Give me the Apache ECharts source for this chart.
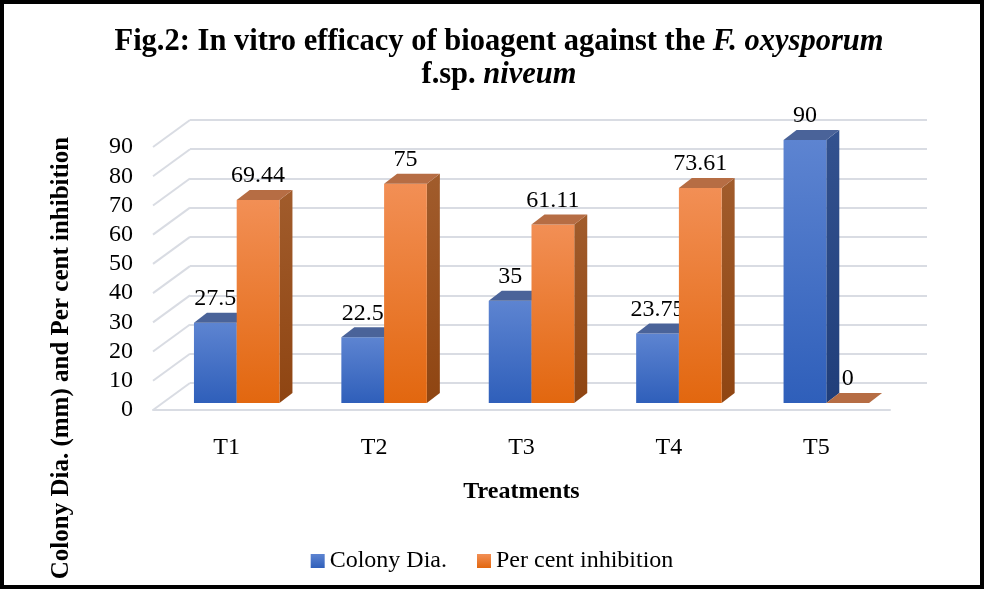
<!DOCTYPE html>
<html>
<head>
<meta charset="utf-8">
<script src="https://cdn.jsdelivr.net/npm/echarts@6/dist/echarts.min.js"></script>
<style>
  html, body { margin: 0; padding: 0; background: #fff; }
  #chart { width: 984px; height: 590px; }
</style>
</head>
<body>
<div id="chart"></div>
<script>
// chart data
const categories = ['T1', 'T2', 'T3', 'T4', 'T5'];
const colonyDia = [27.5, 22.5, 35, 23.75, 90];
const perCentInhibition = [69.44, 75, 61.11, 73.61, 0];
const yTicks = [0, 10, 20, 30, 40, 50, 60, 70, 80, 90];

const FONT = 'Liberation Serif';
const GRID_COLOR = '#d9dce3';
// 3d offsets in px, measured from the back wall
const DEPTH = [-37, 27];
const BAR_FRONT = [-27, 20];
const BAR_BACK = [-14, 10];

const faces = [
  {
    front: ['#5d84d1', '#2f5fba'],
    top: '#4a6399',
    side: ['#33528f', '#203e7a']
  },
  {
    front: ['#f28f55', '#e2670f'],
    top: '#b66d44',
    side: ['#a15c2c', '#8f4512']
  }
];

function grad(c) {
  return new echarts.graphic.LinearGradient(0, 0, 0, 1, [
    { offset: 0, color: c[0] },
    { offset: 1, color: c[1] }
  ]);
}

function barRenderer(s) {
  const f = faces[s];
  return function (params, api) {
    const i = api.value(0);
    const v = api.value(1);
    const base = api.coord([i, 0]);
    const top = api.coord([i, v]);
    const w = api.size([1, 0])[0] * 0.29;
    const x0 = base[0] + BAR_FRONT[0] + (s === 0 ? -w : 0);
    const x1 = x0 + w;
    const yT = top[1] + BAR_FRONT[1];
    const yB = base[1] + BAR_FRONT[1];
    const dx = BAR_BACK[0] - BAR_FRONT[0];
    const dy = BAR_BACK[1] - BAR_FRONT[1];
    return {
      type: 'group',
      children: [
        {
          type: 'polygon',
          shape: { points: [[x1, yT], [x1 + dx, yT + dy], [x1 + dx, yB + dy], [x1, yB]] },
          style: { fill: grad(f.side) }
        },
        {
          type: 'rect',
          shape: { x: x0, y: yT, width: w, height: yB - yT },
          style: { fill: grad(f.front) }
        },
        {
          type: 'polygon',
          shape: { points: [[x0, yT], [x1, yT], [x1 + dx, yT + dy], [x0 + dx, yT + dy]] },
          style: { fill: f.top }
        },
        {
          type: 'text',
          x: (x0 + x1) / 2,
          y: yT + dy - 2,
          style: {
            text: String(v),
            fill: '#000',
            font: '24px "' + FONT + '"',
            align: 'center',
            verticalAlign: 'bottom'
          }
        }
      ]
    };
  };
}

const chart = echarts.init(document.getElementById('chart'));

const titleStyle = { fontFamily: FONT, fontSize: 30.5, fontWeight: 'bold', fill: '#000', lineHeight: 33 };

const option = {
  animation: false,
  backgroundColor: '#fff',
  legend: {
    data: ['Colony Dia.', 'Per cent inhibition'],
    left: 'center',
    top: 544,
    icon: 'rect',
    itemWidth: 14,
    itemHeight: 14,
    itemGap: 30,
    textStyle: { fontFamily: FONT, fontSize: 24, color: '#000' }
  },
  grid: [
    // back wall
    { left: 190, right: 57, top: 120, bottom: 207 },
    // front edge, used for labels
    { left: 153, right: 94, top: 147, bottom: 180 }
  ],
  xAxis: [
    {
      gridIndex: 0,
      type: 'category',
      data: categories,
      axisLine: { show: false },
      axisTick: { show: false },
      axisLabel: { show: false }
    },
    {
      gridIndex: 1,
      type: 'category',
      data: categories,
      axisLine: { lineStyle: { color: GRID_COLOR, width: 2 } },
      axisTick: { show: false },
      axisLabel: { fontFamily: FONT, fontSize: 24, color: '#000', margin: 26 },
      name: 'Treatments',
      nameLocation: 'middle',
      nameGap: 70,
      nameTextStyle: { fontFamily: FONT, fontSize: 24, fontWeight: 'bold', color: '#000' }
    }
  ],
  yAxis: [
    {
      gridIndex: 0,
      type: 'value',
      min: 0,
      max: 90,
      interval: 10,
      axisLine: { show: false },
      axisTick: { show: false },
      axisLabel: { show: false },
      splitLine: { lineStyle: { color: GRID_COLOR, width: 2 } }
    },
    {
      gridIndex: 1,
      type: 'value',
      min: 0,
      max: 90,
      interval: 10,
      axisLine: { show: false },
      axisTick: { show: false },
      splitLine: { show: false },
      axisLabel: { fontFamily: FONT, fontSize: 24, color: '#000', margin: 20 }
    }
  ],
  graphic: [
    {
      type: 'rect',
      shape: { x: 2, y: 2, width: 980, height: 585 },
      style: { fill: 'none', stroke: '#000', lineWidth: 4 },
      z: 100
    },
    {
      // chart title, two centred lines with italic species name
      type: 'text',
      x: 499,
      y: 26,
      style: {
        text: '{a|Fig.2: In vitro efficacy of bioagent against the }{b|F. oxysporum}\n{a|f.sp. }{b|niveum}',
        align: 'center',
        verticalAlign: 'top',
        rich: {
          a: titleStyle,
          b: Object.assign({}, titleStyle, { fontStyle: 'italic' })
        }
      }
    },
    {
      type: 'text',
      x: 62,
      y: 358,
      rotation: Math.PI / 2,
      style: {
        text: 'Colony Dia. (mm) and Per cent inhibition',
        font: 'bold 25px "' + FONT + '"',
        fill: '#000',
        align: 'center',
        verticalAlign: 'middle'
      }
    }
  ],
  series: [
    {
      // slanted lines of the side wall
      type: 'custom',
      name: 'side',
      xAxisIndex: 0,
      yAxisIndex: 0,
      silent: true,
      data: yTicks.map(function (v) { return [0, v]; }),
      renderItem: function (params, api) {
        const p = api.coord([0, api.value(1)]);
        const x = params.coordSys.x;
        return {
          type: 'line',
          shape: { x1: x, y1: p[1], x2: x + DEPTH[0], y2: p[1] + DEPTH[1] },
          style: { stroke: GRID_COLOR, lineWidth: 2 }
        };
      }
    },
    {
      type: 'custom',
      name: 'Colony Dia.',
      xAxisIndex: 0,
      yAxisIndex: 0,
      itemStyle: { color: grad(faces[0].front) },
      data: colonyDia.map(function (v, i) { return [i, v]; }),
      renderItem: barRenderer(0)
    },
    {
      type: 'custom',
      name: 'Per cent inhibition',
      xAxisIndex: 0,
      yAxisIndex: 0,
      itemStyle: { color: grad(faces[1].front) },
      data: perCentInhibition.map(function (v, i) { return [i, v]; }),
      renderItem: barRenderer(1)
    }
  ]
};

chart.setOption(option);
</script>
</body>
</html>
